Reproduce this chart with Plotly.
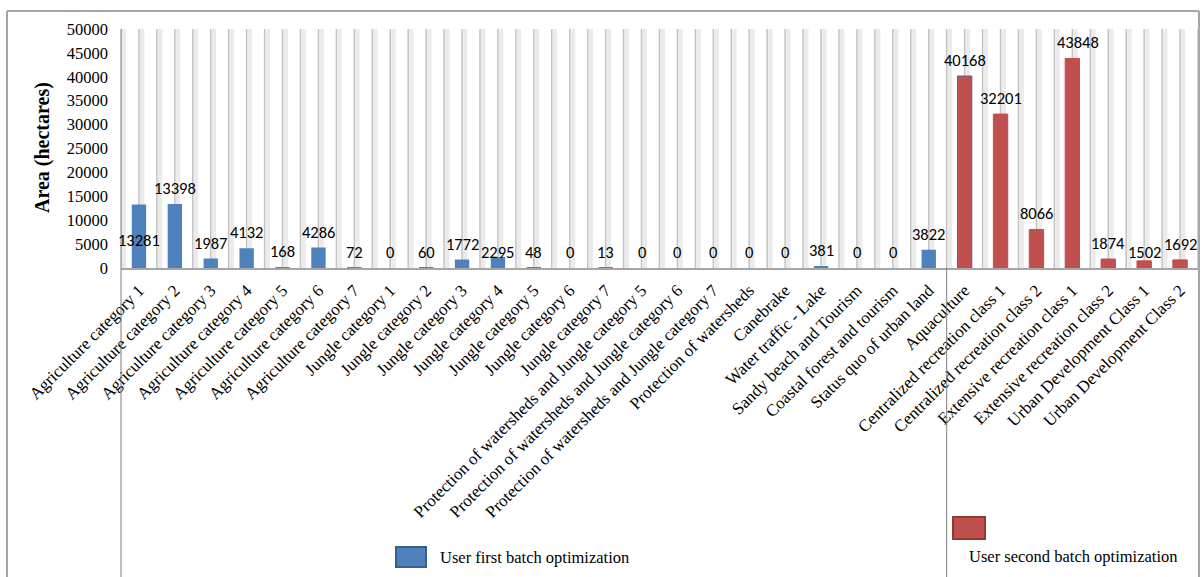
import plotly.graph_objects as go

# ---------------- data ----------------
categories = [
    "Agriculture category 1", "Agriculture category 2", "Agriculture category 3",
    "Agriculture category 4", "Agriculture category 5", "Agriculture category 6",
    "Agriculture category 7", "Jungle category 1", "Jungle category 2",
    "Jungle category 3", "Jungle category 4", "Jungle category 5",
    "Jungle category 6", "Jungle category 7",
    "Protection of watersheds and Jungle category 5",
    "Protection of watersheds and Jungle category 6",
    "Protection of watersheds and Jungle category 7",
    "Protection of watersheds", "Canebrake", "Water traffic - Lake",
    "Sandy beach and Tourism", "Coastal forest and tourism",
    "Status quo of urban land", "Aquaculture",
    "Centralized recreation class 1", "Centralized recreation class 2",
    "Extensive recreation class 1", "Extensive recreation class 2",
    "Urban Development Class 1", "Urban Development Class 2",
]
values = [13281, 13398, 1987, 4132, 168, 4286, 72, 0, 60, 1772, 2295, 48, 0, 13,
          0, 0, 0, 0, 0, 381, 0, 0, 3822,
          40168, 32201, 8066, 43848, 1874, 1502, 1692]
series_names = ["User first batch optimization", "User second batch optimization"]
first_batch_count = 23
y_title = "Area (hectares)"
y_ticks = list(range(0, 50001, 5000))
y_ticktext = [str(t) for t in y_ticks]

# ---------------- style ----------------
label_yshift = [16] * len(values)
label_yshift[0] = -35
label_yshift[10] = 5
label_yshift[28] = 9
label_xshift = [0] * len(values)
label_xshift[26] = 6

BLUE = "#4f81bd"
RED = "#c0504d"
SERIF = "Liberation Serif, Times New Roman, serif"
SANS = "Carlito, Liberation Sans, Arial, sans-serif"

W, H = 1203, 577
L, R, T, B = 121, 5, 29, 309
PW, PH = W - L - R, H - T - B


def X(px):
    return (px - L) / PW


def Y(py):
    return (H - B - py) / PH


cat1, val1 = categories[:first_batch_count], values[:first_batch_count]
cat2, val2 = categories[first_batch_count:], values[first_batch_count:]

fig = go.Figure()
fig.add_trace(go.Bar(x=cat1, y=val1, name=series_names[0],
                     marker=dict(color=BLUE, line=dict(width=0)),
                     width=0.4, showlegend=False))
line_colors = ["#5a5fa0"] + [RED] * (len(cat2) - 1)
fig.add_trace(go.Bar(x=cat2, y=val2, name=series_names[1],
                     marker=dict(color=RED, line=dict(color=line_colors, width=1)),
                     width=0.4, showlegend=False))

shapes = []
# vertical gridlines every half category with light shadow
n = len(categories)
for k in range(2 * n + 1):
    p = -0.5 + 0.5 * k
    shapes.append(dict(type="rect", xref="x", yref="y", x0=p + 0.03, x1=p + 0.15,
                       y0=0, y1=50000, fillcolor="#ebebeb", line=dict(width=0),
                       layer="below"))
    shapes.append(dict(type="line", xref="x", yref="y", x0=p, x1=p, y0=0, y1=50000,
                       line=dict(color="#c2c2c2", width=1.5), layer="below"))

# y axis line extended to bottom
shapes.append(dict(type="line", xref="paper", yref="paper", x0=0, x1=0,
                   y0=Y(577), y1=1, line=dict(color="#7f7f7f", width=1)))
# separator between batches
shapes.append(dict(type="line", xref="x", yref="paper", x0=first_batch_count - 0.5,
                   x1=first_batch_count - 0.5, y0=Y(577), y1=0,
                   line=dict(color="#7f7f7f", width=1)))
# outer frame
shapes.append(dict(type="line", xref="paper", yref="paper", x0=X(7), x1=X(1199),
                   y0=Y(11), y1=Y(11), line=dict(color="#a6a6a6", width=2)))
shapes.append(dict(type="line", xref="paper", yref="paper", x0=X(7), x1=X(7),
                   y0=Y(11), y1=Y(577), line=dict(color="#a6a6a6", width=2)))
shapes.append(dict(type="line", xref="paper", yref="paper", x0=X(1199), x1=X(1199),
                   y0=Y(11), y1=Y(577), line=dict(color="#a6a6a6", width=2)))
# legend swatches
shapes.append(dict(type="rect", xref="paper", yref="paper", x0=X(396), x1=X(426),
                   y0=Y(567), y1=Y(547), fillcolor=BLUE,
                   line=dict(color="#3a5f8d", width=2)))
shapes.append(dict(type="rect", xref="paper", yref="paper", x0=X(953), x1=X(985),
                   y0=Y(539), y1=Y(517), fillcolor=RED,
                   line=dict(color="#8e3b38", width=2)))

annotations = []
for i, (c, v) in enumerate(zip(categories, values)):
    annotations.append(dict(x=c, y=v, xref="x", yref="y", text=str(v),
                            showarrow=False, yanchor="middle", xanchor="center",
                            yshift=label_yshift[i], xshift=label_xshift[i],
                            font=dict(family=SANS, size=16.5, color="#000000")))
annotations.append(dict(x=X(42), y=Y(148), xref="paper", yref="paper",
                        text="<b>" + y_title + "</b>", textangle=-90,
                        xanchor="center", yanchor="middle",
                        showarrow=False, font=dict(family=SERIF, size=20, color="#000")))
annotations.append(dict(x=X(438), y=Y(557), xref="paper", yref="paper",
                        text=series_names[0], xanchor="left", yanchor="middle",
                        showarrow=False, font=dict(family=SERIF, size=16.5, color="#000")))
annotations.append(dict(x=X(1073), y=Y(556), xref="paper", yref="paper",
                        text=series_names[1], xanchor="center", yanchor="middle",
                        showarrow=False, font=dict(family=SERIF, size=16.5, color="#000")))

fig.update_layout(
    width=W, height=H,
    margin=dict(l=L, r=R, t=T, b=B, autoexpand=False),
    paper_bgcolor="white", plot_bgcolor="white",
    barmode="overlay",
    shapes=shapes, annotations=annotations,
    xaxis=dict(categoryorder="array", categoryarray=categories,
               range=[-0.5, n - 0.5], tickangle=-45, showgrid=False,
               showline=True, linecolor="#a6a6a6", linewidth=1.5, ticks="",
               ticklabelstandoff=4,
               tickfont=dict(family=SERIF, size=17, color="#000")),
    yaxis=dict(range=[0, 50000], tickvals=y_ticks, ticktext=y_ticktext,
               showgrid=False, zeroline=False,
               showline=False, ticks="", ticklabelstandoff=12,
               tickfont=dict(family=SERIF, size=16.5, color="#000")),
)

fig.write_html("out.html")
